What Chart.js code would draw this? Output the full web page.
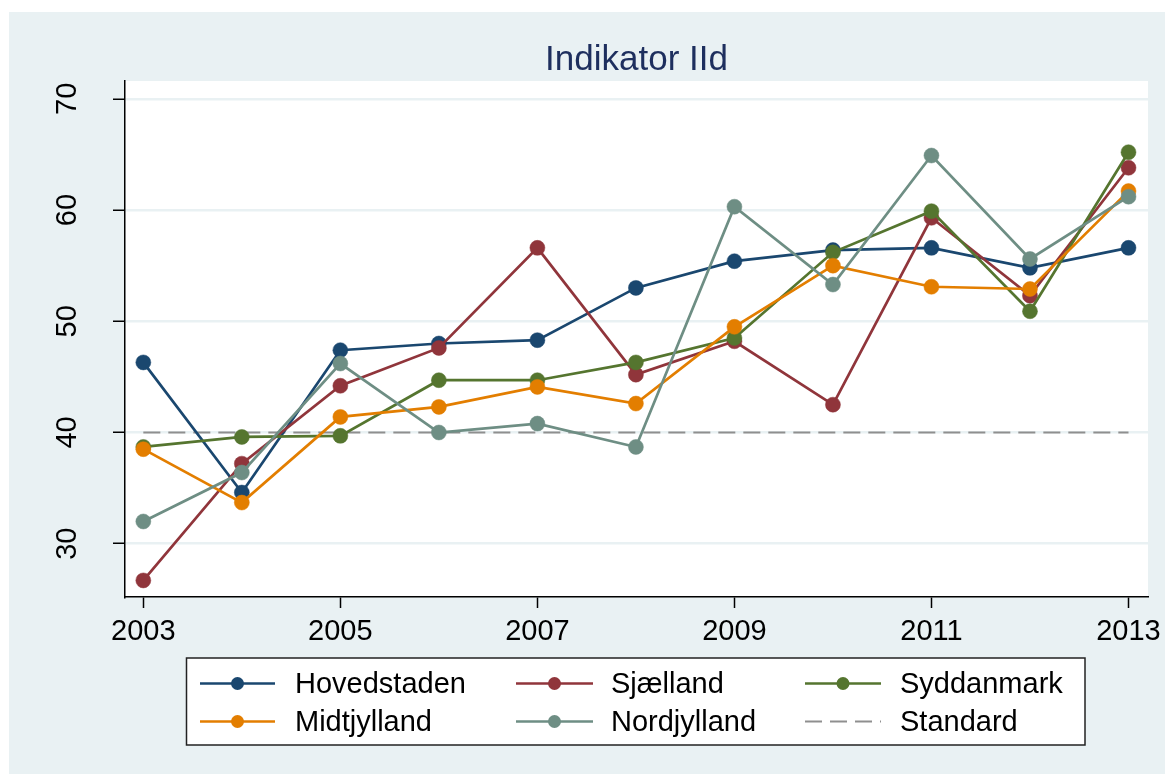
<!DOCTYPE html>
<html>
<head>
<meta charset="utf-8">
<script src="https://cdn.jsdelivr.net/npm/chart.js@4/dist/chart.umd.min.js"></script>
<style>
html,body{margin:0;padding:0;background:#ffffff;}
canvas{display:block;}
</style>
</head>
<body>
<canvas id="c" width="1165" height="774"></canvas>
<script>
// ---- data ----
const years = [2003, 2004, 2005, 2006, 2007, 2008, 2009, 2010, 2011, 2012, 2013];
const hovedstaden = [46.3, 34.6, 47.4, 48.0, 48.3, 53.0, 55.4, 56.4, 56.6, 54.8, 56.6];
const sjaelland   = [26.7, 37.2, 44.2, 47.6, 56.6, 45.2, 48.2, 42.5, 59.3, 52.3, 63.8];
const syddanmark  = [38.7, 39.6, 39.7, 44.7, 44.7, 46.3, 48.5, 56.2, 59.9, 50.9, 65.2];
const midtjylland = [38.5, 33.7, 41.4, 42.3, 44.1, 42.6, 49.5, 55.0, 53.1, 52.9, 61.7];
const nordjylland = [32.0, 36.4, 46.2, 40.0, 40.8, 38.7, 60.3, 53.3, 64.9, 55.6, 61.2];
const standard    = [40, 40, 40, 40, 40, 40, 40, 40, 40, 40, 40];
const seriesNames = ['Hovedstaden', 'Sjælland', 'Syddanmark', 'Midtjylland', 'Nordjylland', 'Standard'];
const xTickLabels = [2003, 2005, 2007, 2009, 2011, 2013];
const yTickLabels = [30, 40, 50, 60, 70];
const titleText = 'Indikator IId';

// ---- styles ----
const FONT = "'Liberation Sans', Arial, Helvetica, sans-serif";
const BG = '#e9f1f3';
const colors = ['#1a476f', '#90353b', '#55752f', '#e37e00', '#6e8e84', '#8f8f8f'];
const seriesValues = [hovedstaden, sjaelland, syddanmark, midtjylland, nordjylland, standard];
const drawOrder = [5, 4, 3, 2, 1, 6];

const datasets = seriesValues.map((vals, i) => {
  const isStd = i === 5;
  return {
    label: seriesNames[i],
    data: years.map((yr, k) => ({x: yr, y: vals[k]})),
    borderColor: colors[i],
    backgroundColor: colors[i],
    borderWidth: isStd ? 2 : 2.7,
    borderDash: isStd ? [17, 8] : [],
    pointRadius: isStd ? 0 : 7.5,
    pointHoverRadius: isStd ? 0 : 7.5,
    pointBorderWidth: 0.5,
    pointBackgroundColor: colors[i],
    pointBorderColor: colors[i],
    tension: 0,
    order: drawOrder[i],
    fill: false
  };
});

const bgPlugin = {
  id: 'bgPlugin',
  beforeDraw(chart) {
    const ctx = chart.ctx, a = chart.chartArea;
    ctx.save();
    ctx.fillStyle = '#ffffff';
    ctx.fillRect(0, 0, chart.width, chart.height);
    ctx.fillStyle = BG;
    ctx.fillRect(9, 12, chart.width - 9, chart.height - 12);
    ctx.fillStyle = '#ffffff';
    ctx.fillRect(a.left, a.top, a.right - a.left, a.bottom - a.top);
    // title, centred over the plot region
    ctx.fillStyle = '#1e2f5e';
    ctx.font = '35px ' + FONT;
    ctx.textAlign = 'center';
    ctx.textBaseline = 'middle';
    ctx.fillText(titleText, (a.left + a.right) / 2, 60);
    ctx.restore();
  }
};

const legendPlugin = {
  id: 'customLegend',
  afterDraw(chart) {
    const ctx = chart.ctx;
    ctx.save();
    ctx.fillStyle = '#ffffff';
    ctx.fillRect(186.5, 658, 898.5, 87);
    ctx.strokeStyle = '#222';
    ctx.lineWidth = 1.5;
    ctx.strokeRect(186.5, 658, 898.5, 87);
    const cols = [{x0: 200, x1: 275, tx: 295}, {x0: 516, x1: 593, tx: 611}, {x0: 805, x1: 881, tx: 900}];
    const rows = [683.5, 721.5];
    ctx.font = '29px ' + FONT;
    ctx.textBaseline = 'middle';
    ctx.textAlign = 'left';
    chart.data.datasets.forEach((ds, i) => {
      const c = cols[i % 3], y = rows[Math.floor(i / 3)];
      ctx.strokeStyle = ds.borderColor;
      ctx.lineWidth = ds.borderWidth;
      ctx.setLineDash(ds.borderDash || []);
      ctx.beginPath();
      ctx.moveTo(c.x0, y);
      ctx.lineTo(c.x1, y);
      ctx.stroke();
      ctx.setLineDash([]);
      if (ds.pointRadius > 0) {
        ctx.fillStyle = ds.pointBackgroundColor;
        ctx.beginPath();
        ctx.arc((c.x0 + c.x1) / 2, y, 6.5, 0, Math.PI * 2);
        ctx.fill();
      }
      ctx.fillStyle = '#000';
      ctx.fillText(ds.label, c.tx, y + 1);
    });
    ctx.restore();
  }
};

new Chart(document.getElementById('c'), {
  type: 'line',
  data: {datasets},
  plugins: [bgPlugin, legendPlugin],
  options: {
    responsive: false,
    animation: false,
    events: [],
    layout: {padding: {left: 0, right: 17, top: 81, bottom: 0}},
    plugins: {
      legend: {display: false},
      tooltip: {enabled: false},
      title: {display: false}
    },
    scales: {
      x: {
        type: 'linear',
        min: 2002.814,
        max: 2013.198,
        afterBuildTicks: s => { s.ticks = xTickLabels.map(v => ({value: v})); },
        afterFit: s => { s.height = 177; s.paddingLeft = 0; s.paddingRight = 0; },
        ticks: {
          callback: v => String(v),
          color: '#000',
          font: {family: FONT, size: 29},
          padding: 7,
          minRotation: 0, maxRotation: 0,
          autoSkip: false
        },
        grid: {drawOnChartArea: false, drawTicks: true, tickLength: 11, tickColor: '#000', tickWidth: 1.5},
        border: {display: true, color: '#000', width: 1.5}
      },
      y: {
        type: 'linear',
        min: 25.21,
        max: 71.6,
        afterBuildTicks: s => { s.ticks = yTickLabels.map(v => ({value: v})); },
        afterFit: s => { s.width = 125; s.paddingTop = 0; s.paddingBottom = 0; },
        ticks: {
          callback: v => String(v),
          color: '#000',
          font: {family: FONT, size: 29},
          padding: 28.5,
          minRotation: 90, maxRotation: 90,
          crossAlign: 'center',
          autoSkip: false
        },
        grid: {color: BG, lineWidth: 2.5, drawTicks: true, tickLength: 12, tickColor: '#000', tickWidth: 1.5},
        border: {display: true, color: '#000', width: 1.5}
      }
    }
  }
});
</script>
</body>
</html>
